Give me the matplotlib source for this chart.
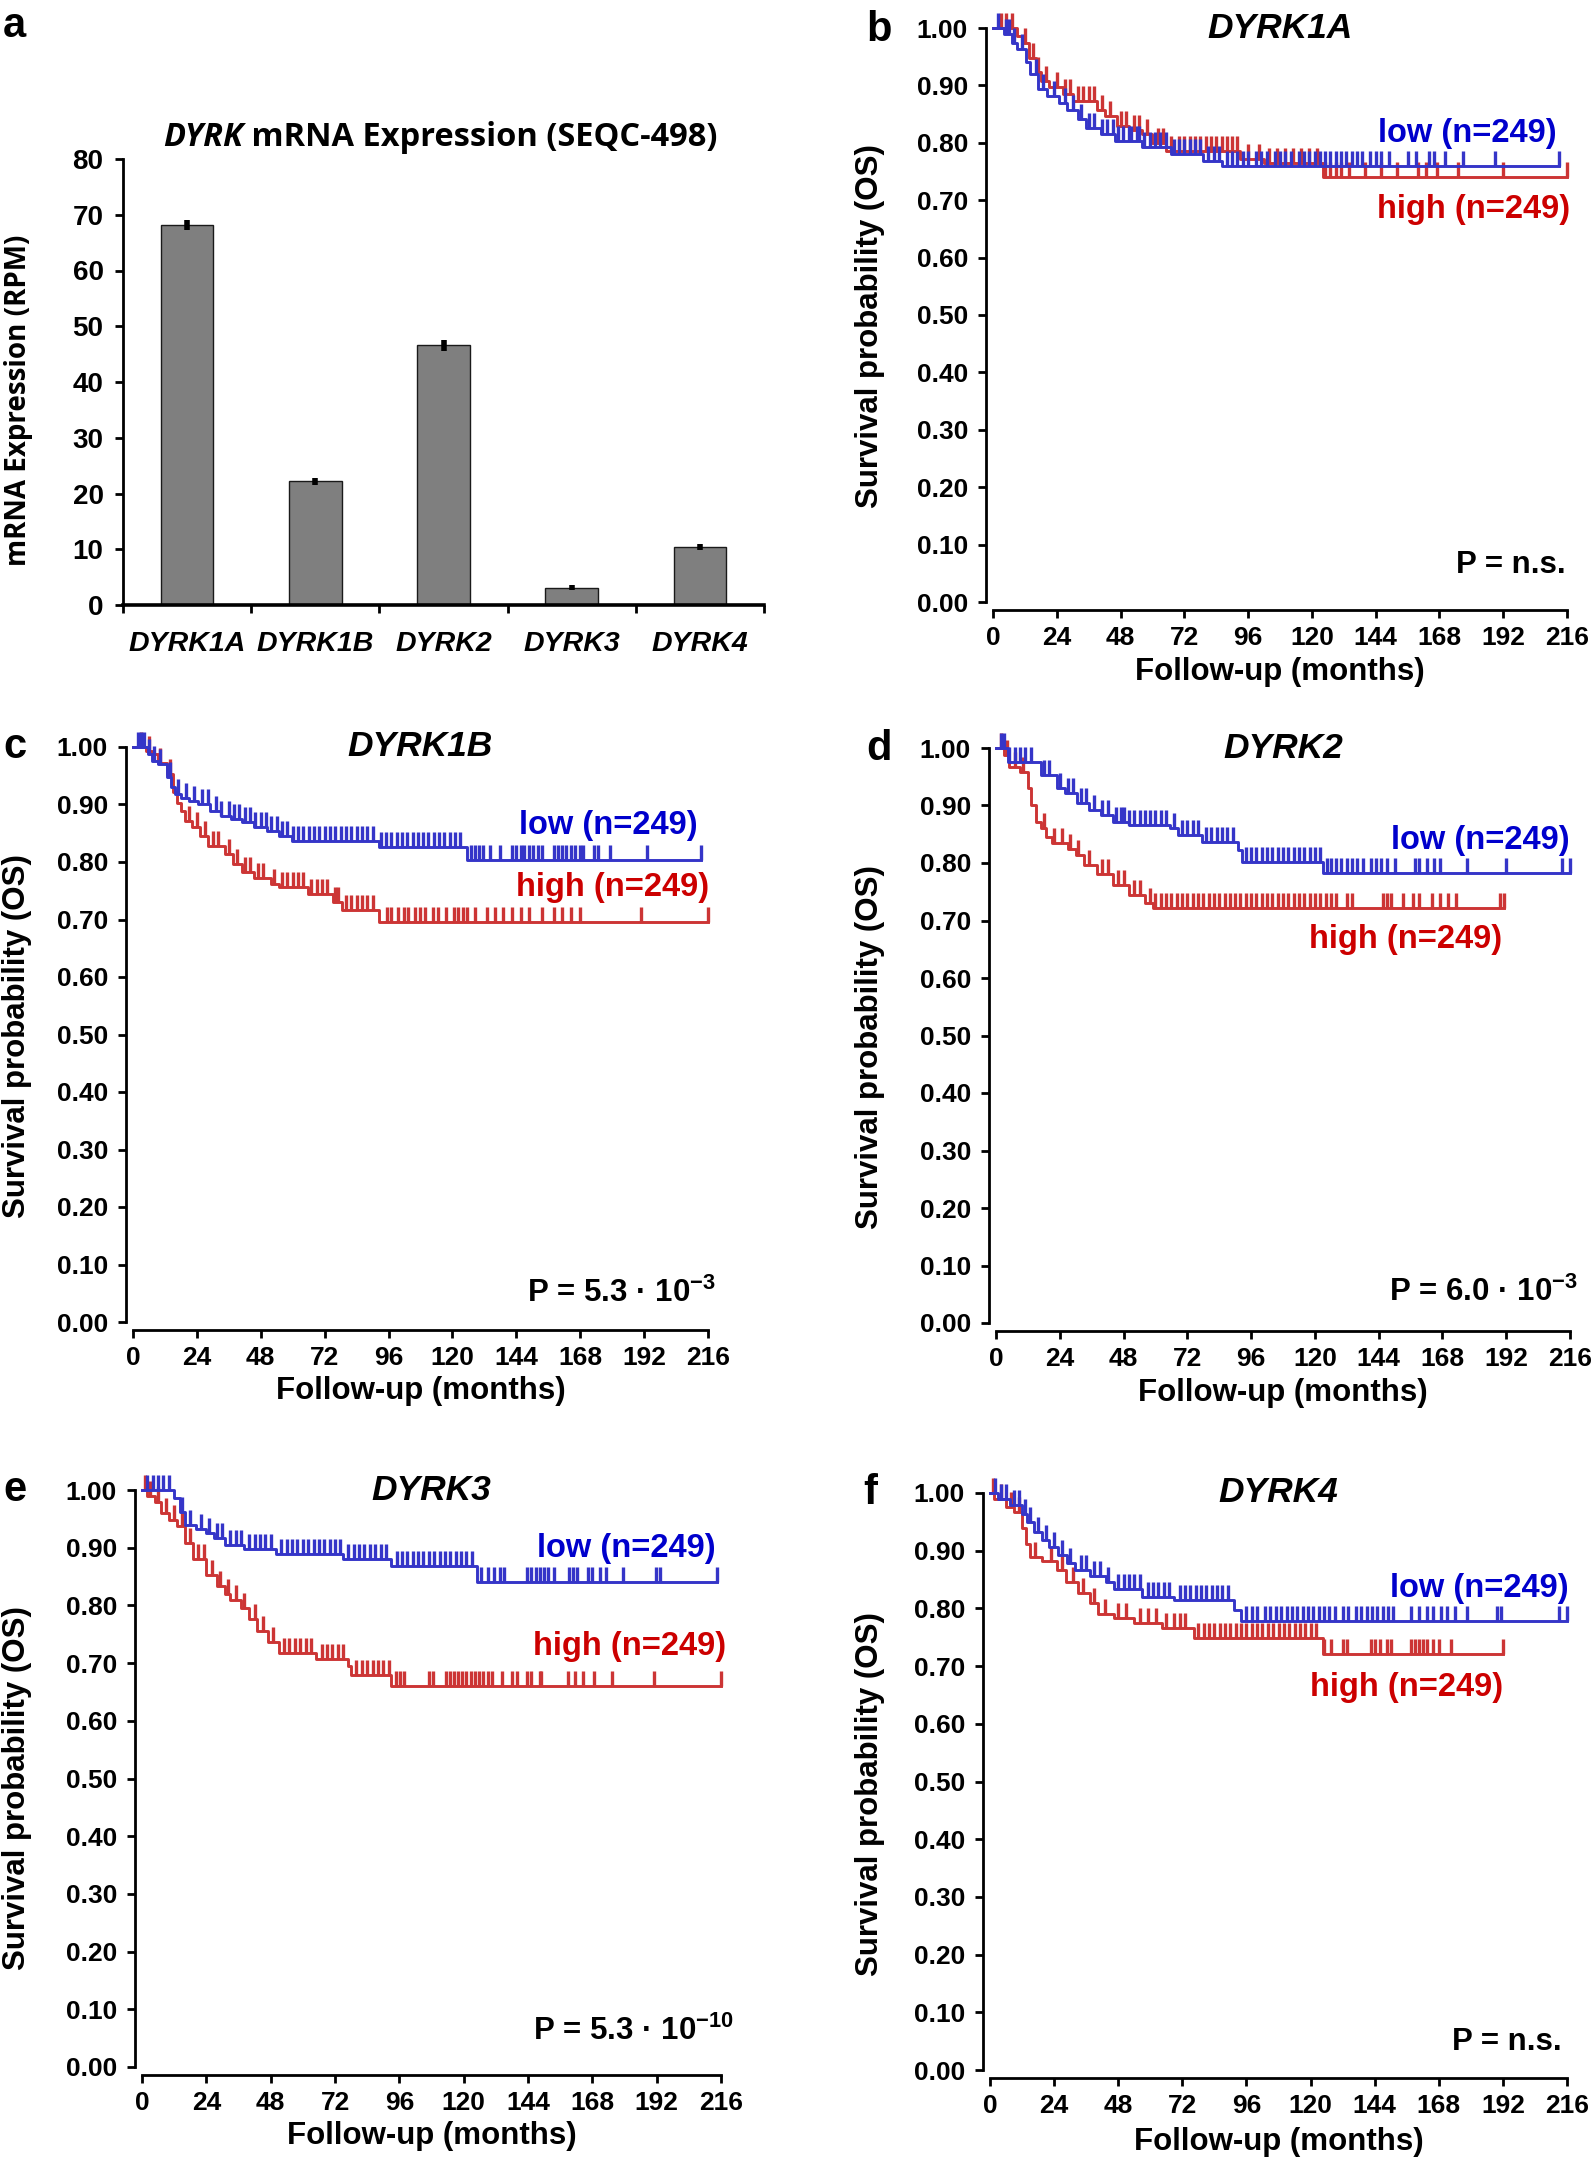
import numpy as np
import matplotlib.pyplot as plt

# ---------------- data ----------------
genes = ['DYRK1A', 'DYRK1B', 'DYRK2', 'DYRK3', 'DYRK4']
expr = [68.1, 22.2, 46.6, 3.1, 10.4]
expr_err = [0.9, 0.6, 1.0, 0.4, 0.5]

month_ticks = list(range(0, 217, 24))
surv_ticks = [0.0, 0.1, 0.2, 0.3, 0.4, 0.5, 0.6, 0.7, 0.8, 0.9, 1.0]

# DYRK1A (b)
b_low_t = [4, 7, 9, 12.5, 14, 17, 20.5, 25, 28, 32, 35, 40.5, 46, 56, 67, 79, 86]
b_low_s = [0.99, 0.974, 0.963, 0.94, 0.92, 0.893, 0.881, 0.87, 0.857, 0.842, 0.826, 0.815, 0.804, 0.792, 0.78, 0.768, 0.759]
b_low_end = 213
b_low_c = [2, 5, 6, 8, 11, 16, 19, 23, 27, 30, 33, 36, 38, 41, 43, 45, 47, 49, 51, 52, 54, 55, 57, 59, 61, 63,
           65, 68, 70, 72, 74, 76, 78, 81, 83, 85, 88, 90, 92, 94, 96, 99, 101, 103, 106, 108, 110, 112, 115,
           117, 119, 121, 123, 125, 127, 129, 131, 133, 135, 137, 139, 142, 144, 146, 149, 156, 159, 164, 166,
           170, 177, 189, 213]
b_high_t = [9, 11.7, 13.5, 16, 18, 21, 26.5, 30, 39, 42, 46.6, 51, 56, 60, 65, 93, 102, 124]
b_high_s = [0.986, 0.974, 0.947, 0.924, 0.908, 0.897, 0.885, 0.873, 0.857, 0.846, 0.83, 0.823, 0.815, 0.80, 0.786, 0.772, 0.765, 0.741]
b_high_end = 216
b_high_c = [3, 5, 7, 12, 15, 17, 20, 24, 27, 29, 32, 34, 36, 38, 41, 44, 48, 50, 53, 55, 58, 62, 64, 67, 70, 72,
            74, 76, 78, 80, 82, 84, 86, 88, 90, 92, 96, 100, 104, 107, 110, 113, 116, 119, 122, 125, 127, 129,
            131, 134, 140, 146, 152, 160, 163, 167, 175, 192, 216]

# DYRK1B (c)
c_low_t = [5.6, 7.2, 9.5, 12.6, 14.2, 15.8, 18.1, 21.2, 24.4, 29, 33, 36.9, 40.8, 45.5, 50.2, 54.9, 59.6, 92.5, 125.3]
c_low_s = [0.987, 0.976, 0.971, 0.947, 0.93, 0.918, 0.911, 0.906, 0.90, 0.889, 0.88, 0.875, 0.869, 0.86, 0.854, 0.846, 0.837, 0.826, 0.804]
c_low_end = 213.5
c_low_c = [2, 3, 4, 6, 8, 10, 14, 17, 20, 23, 26, 28, 31, 33, 36, 38, 40, 42, 44, 46, 48, 50, 52, 54, 56, 58, 60,
           62, 64, 66, 68, 70, 72, 74, 76, 78, 80, 82, 84, 86, 88, 90, 93, 95, 97, 99, 101, 103, 105, 107, 109,
           111, 113, 115, 117, 119, 121, 123, 127, 128.5, 130, 131.6, 134, 138, 142.5, 144, 145.6, 147, 148.8,
           150.4, 152, 153.5, 158, 159.7, 161, 162.8, 164.4, 166, 168, 169, 173, 174.6, 179, 193, 213.5]
c_high_t = [4.8, 7.2, 9.5, 12.6, 15, 16.6, 18.1, 19.7, 22, 25.2, 28.3, 34.6, 37.7, 40.8, 45.5, 51.8, 54.9, 65.9, 75.2, 78.4, 92.5]
c_high_s = [0.993, 0.987, 0.973, 0.953, 0.921, 0.903, 0.889, 0.872, 0.86, 0.846, 0.828, 0.814, 0.797, 0.782, 0.773, 0.762, 0.756, 0.745, 0.73, 0.716, 0.695]
c_high_end = 216
c_high_c = [3, 6, 10, 14, 21, 24, 27, 30, 32, 36, 39, 42, 44, 47, 49, 53, 56, 58, 60, 62, 64, 67, 69, 71, 73, 76,
            77, 80, 82, 84, 86, 88, 90, 95.6, 97, 99.5, 101.9, 103.4, 105.8, 108, 109.7, 112.8, 114.4, 117.5,
            120.6, 122, 123.8, 125.3, 128.5, 133, 136, 139, 142.5, 145.7, 148.8, 153.5, 158, 161, 164.5, 168, 191, 216]

# DYRK2 (d)
d_low_t = [4.7, 16.8, 22.9, 25.9, 30.4, 35, 39.5, 44, 50, 65.3, 68.3, 77.4, 91, 92.5, 122.9]
d_low_s = [0.976, 0.953, 0.93, 0.921, 0.904, 0.892, 0.883, 0.872, 0.866, 0.86, 0.848, 0.837, 0.823, 0.802, 0.783]
d_low_end = 216
d_low_c = [2, 3, 5, 7, 9, 11, 13, 18, 20, 24, 27, 29, 32, 34, 37, 40, 42, 45, 47, 48, 50, 52, 54, 56, 58, 60, 62,
           64, 67, 70, 72, 74, 76, 79, 81, 83, 85, 87, 89, 94, 96, 98, 100, 102, 104, 106, 108, 110, 112, 114,
           116, 118, 120, 122, 124.4, 126, 128, 130, 132, 134, 136, 138, 141, 143, 145, 147, 150, 157.7, 159,
           162, 165, 167, 177.4, 191.8, 213, 216]
d_high_t = [3, 5, 9, 12, 13, 15, 17, 19, 21, 27, 30, 33, 38, 44, 50, 56, 59]
d_high_s = [0.987, 0.967, 0.958, 0.93, 0.90, 0.872, 0.86, 0.846, 0.834, 0.825, 0.814, 0.797, 0.78, 0.762, 0.745, 0.73, 0.722]
d_high_end = 191
d_high_c = [2, 4, 7, 10, 18, 22, 25, 28, 31, 35, 40, 42, 46, 48, 52, 54, 58, 60, 62, 64, 66, 68, 70, 72, 74, 76,
            78, 80, 82, 84, 86, 88, 90, 92, 94, 96, 98, 100, 102, 104, 106, 108, 110, 112, 114, 116, 118, 120,
            122, 124, 126, 128, 132, 134, 145.6, 147, 148.6, 153, 157, 159, 164, 167, 170, 173, 189.5, 191]

# DYRK3 (e)
e_low_t = [12, 14, 16, 20, 24, 27, 31, 38, 50, 75, 93, 125]
e_low_s = [0.986, 0.962, 0.940, 0.932, 0.925, 0.917, 0.905, 0.897, 0.889, 0.880, 0.868, 0.841]
e_low_end = 214.4
e_low_c = [2, 4, 6, 8, 10, 15, 18, 22, 25, 28, 30, 33, 35, 37, 40, 42, 44, 46, 48, 52, 54, 56, 58, 60, 62, 64, 66,
           68, 70, 72, 74, 77, 79, 81, 83, 85, 87, 89, 91, 95, 97, 99, 101, 103, 105, 107, 109, 111, 113, 115,
           117, 119, 121, 123, 126.5, 128.9, 131.2, 133.5, 135, 143.6, 145.2, 146.8, 148.3, 149.9, 151.4, 153.8,
           159.2, 160.7, 162.3, 166.2, 167.7, 170.9, 173.2, 179.4, 191.8, 193.4, 214.4]
e_high_t = [2, 5, 7, 10, 13, 16, 19, 24, 28, 31, 33, 37, 40, 43, 47, 51, 65, 77, 78, 93]
e_high_s = [0.99, 0.98, 0.96, 0.948, 0.937, 0.908, 0.88, 0.853, 0.833, 0.82, 0.81, 0.796, 0.776, 0.756, 0.736, 0.718, 0.707, 0.695, 0.68, 0.661]
e_high_end = 216
e_high_c = [1, 3, 6, 9, 12, 15, 18, 21, 23, 26, 29, 32, 35, 38, 42, 45, 49, 53, 55, 57, 59, 61, 63, 67, 69, 71, 73,
            75, 80, 82, 84, 86, 88, 90, 92, 94.7, 96.2, 97.8, 107, 108.7, 113.3, 114.9, 116.4, 118, 119.5, 121,
            122.6, 124.2, 125.8, 127.3, 128.9, 130.4, 134.3, 138.2, 139.8, 143.6, 145.2, 148.3, 149, 159, 161.5,
            164.6, 168.5, 175.5, 191, 216]

# DYRK4 (f)
f_low_t = [3, 7.5, 12, 14, 16.5, 19.5, 22, 25.5, 29, 32, 37.5, 43.5, 46.5, 57, 69, 91.5, 94]
f_low_s = [0.99, 0.98, 0.964, 0.95, 0.932, 0.918, 0.906, 0.892, 0.878, 0.866, 0.857, 0.846, 0.834, 0.82, 0.814, 0.797, 0.779]
f_low_end = 216
f_low_c = [2, 4, 6, 9, 11, 13, 15, 18, 21, 24, 27, 30, 34, 36, 39, 41, 44, 48, 50, 52, 54, 56, 59, 61, 63, 65, 67,
           71, 73, 75, 77, 79, 81, 83, 85, 87, 89, 96, 98, 100, 103, 105, 107, 109, 111, 113, 115, 117, 119, 121,
           123, 125, 127, 129, 132, 134, 137, 139, 141, 143, 145, 147, 149, 151, 157.5, 160.5, 163.5, 165.8,
           168.8, 171, 174, 178.5, 189.8, 191.3, 213, 216]
f_high_t = [1.5, 6, 9, 12, 13.5, 15, 19.5, 25, 28.5, 33, 37.5, 40.5, 46.5, 54, 64.5, 76.5, 124.5]
f_high_s = [0.99, 0.975, 0.967, 0.94, 0.912, 0.889, 0.883, 0.866, 0.846, 0.826, 0.809, 0.791, 0.783, 0.774, 0.766, 0.748, 0.721]
f_high_end = 192
f_high_c = [1, 4, 8, 11, 17, 23, 27, 31, 35, 39, 43, 48, 51, 56, 59, 62, 66, 69, 71, 73, 78, 80, 82, 84, 86, 88,
            90, 92, 94, 96, 98, 100, 102, 104, 106, 108, 110, 112, 114, 116, 118, 120, 122, 125, 127.5, 132,
            133.5, 142.5, 144, 146, 148.5, 150, 157.5, 159, 160.5, 162, 163.5, 165.8, 168, 172.5, 192]

p_texts = ['P = n.s.', 'P = 5.3 \u00b7 10$^{-3}$', 'P = 6.0 \u00b7 10$^{-3}$',
           'P = 5.3 \u00b7 10$^{-10}$', 'P = n.s.']

# ---------------- style ----------------
plt.rcParams['font.family'] = ['Liberation Sans', 'DejaVu Sans']
plt.rcParams['font.weight'] = 'bold'
plt.rcParams['axes.labelweight'] = 'bold'
plt.rcParams['mathtext.fontset'] = 'custom'
plt.rcParams['mathtext.rm'] = 'Liberation Sans:bold'
plt.rcParams['mathtext.bf'] = 'Liberation Sans:bold'
plt.rcParams['mathtext.default'] = 'rm'

NARROW = ['Liberation Sans Narrow', 'Liberation Sans', 'DejaVu Sans']
CALI = ['Open Sans', 'Liberation Sans', 'DejaVu Sans']
BLUE_L, RED_L = '#3535c8', '#cc3535'
BLUE_T, RED_T = '#0000cc', '#cc0000'

W, H = 1594, 2166
fig = plt.figure(figsize=(W / 100, H / 100), dpi=100)


def px_axes(x0, x1, ytop, ybot):
    return fig.add_axes([x0 / W, 1 - ybot / H, (x1 - x0) / W, (ybot - ytop) / H])


def fx(x, y):
    return x / W, 1 - y / H


# ---------------- panel a ----------------
ax = px_axes(123, 764, 159, 605)
pos = np.arange(len(genes)) + 0.5
ax.bar(pos, expr, width=0.41, color='#7f7f7f', edgecolor='#1a1a1a', linewidth=1.0, zorder=2)
ax.errorbar(pos, expr, yerr=expr_err, fmt='none', ecolor='black', elinewidth=4, capsize=0, zorder=3)
ax.set_xlim(0, 5)
ax.set_ylim(0, 80)
for s in ['top', 'right']:
    ax.spines[s].set_visible(False)
ax.spines['left'].set_linewidth(2)
ax.spines['bottom'].set_linewidth(2.6)
ax.set_xticks(range(6))
ax.set_xticklabels([])
ax.set_xticks(pos, minor=True)
ax.set_xticklabels(genes, minor=True, style='italic', family=NARROW, fontsize=20.5)
ax.tick_params(axis='x', which='minor', length=0, pad=19)
ax.tick_params(axis='x', which='major', direction='out', length=6, width=2)
ax.set_yticks(range(0, 81, 10))
ax.set_yticklabels([str(v) for v in range(0, 81, 10)], family=NARROW, fontsize=20)
ax.tick_params(axis='y', direction='out', length=6, width=2, pad=8)
ax.set_ylabel('mRNA Expression (RPM)', family=CALI, fontsize=20)
ax.yaxis.set_label_coords(*fx(19, 400), transform=fig.transFigure)
ax.yaxis.label.set_va('center')
t1 = ax.text(*fx(163, 146), 'DYRK', transform=fig.transFigure, family=CALI, style='italic',
             fontsize=23.5, ha='left', va='baseline')
ax.annotate(' mRNA Expression (SEQC-498)', xy=(1, 0), xycoords=t1, family=CALI,
            fontsize=23.5, ha='left', va='bottom')

# ---------------- survival panels ----------------
surv = [
    # box (x0, x216, y1, y0), gene, low, high, label pos, p pos, ylabel x/y, xlabel y
    ((993, 1567, 28, 602), 'DYRK1A',
     (b_low_t, b_low_s, b_low_end, b_low_c), (b_high_t, b_high_s, b_high_end, b_high_c),
     (212, 0.816), (217, 0.684), (215.5, 0.065), (870, 326), 672),
    ((133, 708, 747, 1322), 'DYRK1B',
     (c_low_t, c_low_s, c_low_end, c_low_c), (c_high_t, c_high_s, c_high_end, c_high_c),
     (212, 0.864), (216.5, 0.756), (219, 0.05), (17, 1036), 1391),
    ((996, 1570, 748, 1323), 'DYRK2',
     (d_low_t, d_low_s, d_low_end, d_low_c), (d_high_t, d_high_s, d_high_end, d_high_c),
     (216, 0.84), (190.5, 0.667), (219, 0.053), (870, 1047), 1393),
    ((142, 721, 1490, 2067), 'DYRK3',
     (e_low_t, e_low_s, e_low_end, e_low_c), (e_high_t, e_high_s, e_high_end, e_high_c),
     (214, 0.898), (218, 0.729), (221, 0.062), (17, 1788), 2136),
    ((990, 1567, 1493, 2070), 'DYRK4',
     (f_low_t, f_low_s, f_low_end, f_low_c), (f_high_t, f_high_s, f_high_end, f_high_c),
     (216.5, 0.834), (192, 0.663), (214, 0.048), (870, 1794), 2142),
]


def km(ax, t, s, end, cens, color):
    tt = np.r_[0, t, end]
    ss = np.r_[1.0, s, s[-1]]
    ax.step(tt, ss, where='post', color=color, lw=2.1, clip_on=False, zorder=3)
    c = np.asarray(cens, dtype=float)
    lev = np.r_[1.0, s][np.searchsorted(t, c, side='right')]
    ax.plot(c, lev, ls='none', marker=2, ms=10.5, mew=2.4, color=color, clip_on=False, zorder=3)


for i, (box, gene, low, high, lpos, hpos, ppos, ylab, xlab_y) in enumerate(surv):
    x0, x1, y1, y0 = box
    ax = px_axes(x0, x1, y1, y0)
    ax.set_xlim(0, 216)
    ax.set_ylim(0, 1)
    for s in ['top', 'right']:
        ax.spines[s].set_visible(False)
    ax.spines['left'].set_position(('outward', 5))
    ax.spines['bottom'].set_position(('outward', 6))
    ax.spines['left'].set_linewidth(2)
    ax.spines['bottom'].set_linewidth(2)
    ax.set_xticks(month_ticks)
    ax.set_yticks(surv_ticks)
    ax.set_yticklabels(['%.2f' % v for v in surv_ticks])
    ax.tick_params(direction='out', length=6, width=2, labelsize=19)
    ax.tick_params(axis='y', pad=7)
    ax.tick_params(axis='x', pad=5)
    km(ax, *high, RED_L)
    km(ax, *low, BLUE_L)
    ax.text(108, 1.0, gene, style='italic', fontsize=25.5, ha='center', va='center', clip_on=False)
    ax.text(lpos[0], lpos[1], 'low (n=249)', color=BLUE_T, fontsize=23.5, ha='right', va='center')
    ax.text(hpos[0], hpos[1], 'high (n=249)', color=RED_T, fontsize=23.5, ha='right', va='center')
    ax.text(ppos[0], ppos[1], p_texts[i], fontsize=22.5, ha='right', va='center')
    ax.set_ylabel('Survival probability (OS)', fontsize=22.5)
    ax.yaxis.set_label_coords(*fx(*ylab), transform=fig.transFigure)
    ax.yaxis.label.set_va('center')
    ax.set_xlabel('Follow-up (months)', fontsize=22.5)
    ax.xaxis.set_label_coords(*fx((x0 + x1) / 2, xlab_y), transform=fig.transFigure)
    ax.xaxis.label.set_va('center')

# panel letters
for letter, (lx, ly) in zip('abcdef', [(3, 37), (866, 41), (3, 758), (866, 760), (3, 1501), (863, 1504)]):
    fig.text(*fx(lx, ly), letter, fontsize=30, ha='left', va='baseline')

fig.savefig('out.png', dpi=100)
